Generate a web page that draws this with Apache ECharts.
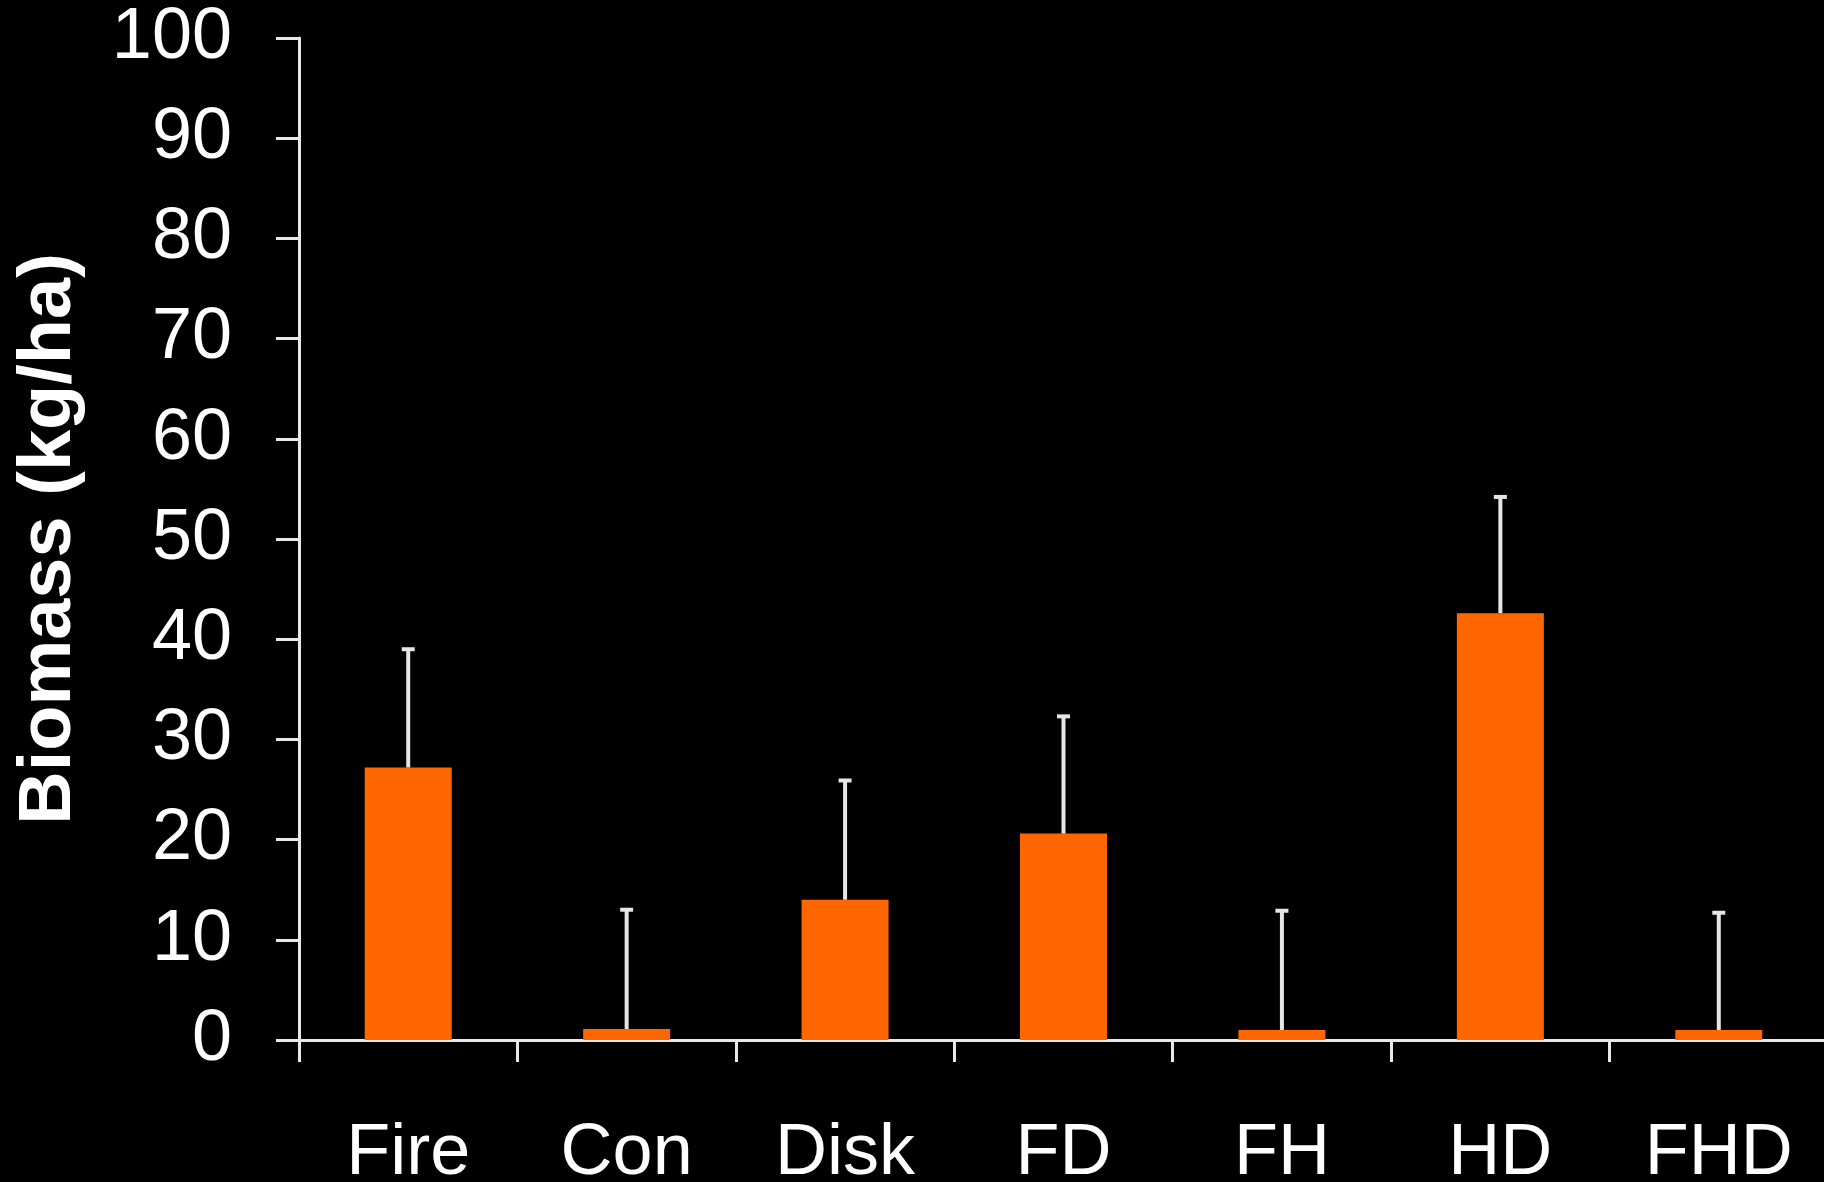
<!DOCTYPE html>
<html>
<head>
<meta charset="utf-8">
<script src="https://cdn.jsdelivr.net/npm/echarts@6/dist/echarts.min.js"></script>
<style>
html,body{margin:0;padding:0;background:#000;}
#c{width:1824px;height:1182px;}
</style>
</head>
<body>
<div id="c"></div>
<script>
const categories = ['Fire', 'Con', 'Disk', 'FD', 'FH', 'HD', 'FHD'];
const biomass = [27.2, 1.1, 14.0, 20.6, 1.0, 42.6, 1.0];
const errorTop = [39.0, 13.0, 25.9, 32.3, 12.9, 54.2, 12.7];
const yTicks = [0, 10, 20, 30, 40, 50, 60, 70, 80, 90, 100];

const errData = categories.map((c, i) => [i, biomass[i], errorTop[i]]);
const axisColor = '#e8e8e8';
const font = 'Liberation Sans, Arial, sans-serif';

const chart = echarts.init(document.getElementById('c'));
chart.setOption({
  backgroundColor: '#000',
  animation: false,
  grid: { left: 299, right: -4, top: 38, bottom: 142, containLabel: false, outerBoundsMode: 'none' },
  xAxis: {
    type: 'category',
    data: categories,
    boundaryGap: true,
    axisLine: { show: true, lineStyle: { color: axisColor, width: 3 } },
    axisTick: { show: true, length: 22, lineStyle: { color: axisColor, width: 3 }, alignWithLabel: false },
    axisLabel: { color: '#fff', fontSize: 72, fontFamily: font, margin: 78, interval: 0 },
    splitLine: { show: false }
  },
  yAxis: {
    type: 'value',
    min: yTicks[0],
    max: yTicks[yTicks.length - 1],
    interval: 10,
    name: 'Biomass (kg/ha)',
    nameLocation: 'middle',
    nameGap: 249,
    nameRotate: 90,
    nameTextStyle: { color: '#fff', fontSize: 74, fontWeight: 'bold', fontFamily: font, verticalAlign: 'middle' },
    axisLine: { show: true, lineStyle: { color: axisColor, width: 3 } },
    axisTick: { show: true, length: 23, lineStyle: { color: axisColor, width: 3 } },
    axisLabel: { color: '#fff', fontSize: 72, fontFamily: font, margin: 67 },
    splitLine: { show: false }
  },
  series: [
    {
      type: 'bar',
      data: biomass,
      barWidth: 87,
      itemStyle: { color: '#FF6600' },
      z: 2
    },
    {
      type: 'custom',
      data: errData,
      z: 3,
      renderItem: function (params, api) {
        const x = api.value(0);
        const lo = api.coord([x, api.value(1)]);
        const hi = api.coord([x, api.value(2)]);
        const half = 6.5;
        const style = { stroke: '#e6e6e6', lineWidth: 4 };
        return {
          type: 'group',
          children: [
            { type: 'line', shape: { x1: lo[0], y1: lo[1], x2: hi[0], y2: hi[1] }, style: style },
            { type: 'line', shape: { x1: hi[0] - half, y1: hi[1], x2: hi[0] + half, y2: hi[1] }, style: style }
          ]
        };
      }
    }
  ]
});
</script>
</body>
</html>
